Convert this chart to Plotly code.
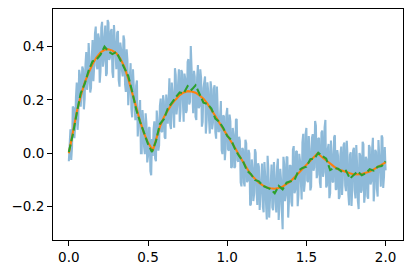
import plotly.graph_objects as go

# Noisy signal, samples at x = 0.00, 0.01, ..., 2.00
noisy_x_a = [round(i * 0.01, 3) for i in range(201)]
noisy_y_a = [
    -0.03, 0.09, 0.02, 0.17, 0.105, 0.265, 0.13, 0.295, 0.225, 0.315,
    0.205, 0.38, 0.265, 0.36, 0.245, 0.425, 0.325, 0.475, 0.315, 0.432,
    0.308, 0.493, 0.347, 0.479, 0.30, 0.49, 0.359, 0.466, 0.283, 0.429,
    0.315, 0.458, 0.25, 0.39, 0.288, 0.425, 0.23, 0.35, 0.23, 0.338,
    0.135, 0.255, 0.124, 0.273, 0.112, 0.20, 0.0, 0.123, -0.003, 0.112,
    -0.01, 0.098, -0.082, -0.01, 0.12, -0.03, 0.12, 0.03, 0.205, 0.08,
    0.195, 0.055, 0.185, 0.266, 0.106, 0.265, 0.152, 0.319, 0.146, 0.262,
    0.118, 0.312, 0.196, 0.299, 0.151, 0.343, 0.183, 0.402, 0.211, 0.309,
    0.137, 0.283, 0.169, 0.315, 0.10, 0.245, 0.288, 0.12, 0.232, 0.074,
    0.245, 0.115, 0.255, 0.055, 0.185, 0.085, 0.196, -0.003, 0.138, 0.019,
    0.17, 0.01, 0.12, -0.05, 0.07, -0.05, 0.129, -0.032, 0.047, -0.124,
    0.015, -0.124, 0.037, -0.102, -0.001, -0.19, -0.056, -0.152, 0.002, -0.194,
    -0.05, -0.144, -0.038, -0.221, -0.085, -0.248, -0.06, -0.181, -0.042, -0.213,
    -0.083, -0.222, -0.02, -0.189, -0.097, -0.285, -0.041, -0.157, -0.013, -0.179,
    -0.045, -0.199, 0.027, -0.137, 0.009, -0.155, -0.029, -0.173, 0.073, -0.111,
    0.095, -0.108, 0.018, -0.125, 0.072, -0.052, 0.104, -0.08, 0.055, -0.13,
    0.085, -0.07, 0.125, -0.12, 0.035, -0.15, -0.004, -0.108, 0.068, -0.136,
    -0.01, -0.162, 0.025, -0.097, 0.04, -0.142, -0.013, -0.195, 0.004, -0.128,
    0.021, -0.169, -0.039, -0.209, -0.008, -0.138, 0.034, -0.154, -0.022, -0.17,
    0.022, -0.105, 0.058, -0.128, 0.005, -0.162, -0.018, -0.125, 0.059, -0.088,
    -0.064,
]

# Noisy signal, samples at x = 0.005, 0.015, ..., 1.995
noisy_x_b = [round(0.005 + i * 0.01, 3) for i in range(200)]
noisy_y_b = [
    0.055, -0.025, 0.175, 0.057, 0.21, 0.088, 0.313, 0.175, 0.325, 0.165,
    0.333, 0.238, 0.413, 0.228, 0.36, 0.27, 0.45, 0.33, 0.449, 0.265,
    0.471, 0.325, 0.438, 0.29, 0.50, 0.35, 0.458, 0.305, 0.481, 0.327,
    0.452, 0.274, 0.415, 0.314, 0.442, 0.258, 0.39, 0.18, 0.309, 0.167,
    0.315, 0.155, 0.254, 0.063, 0.191, 0.0, 0.162, 0.025, 0.15, -0.034,
    0.094, -0.067, 0.054, 0.09, -0.02, 0.16, 0.01, 0.178, 0.083, 0.218,
    0.06, 0.22, 0.111, 0.281, 0.091, 0.229, 0.096, 0.293, 0.179, 0.315,
    0.16, 0.304, 0.118, 0.28, 0.162, 0.353, 0.193, 0.322, 0.15, 0.288,
    0.125, 0.331, 0.177, 0.283, 0.118, 0.262, 0.074, 0.266, 0.128, 0.27,
    0.09, 0.24, 0.08, 0.25, 0.08, 0.19, 0.012, 0.143, -0.026, 0.145,
    0.015, 0.145, -0.055, 0.095, -0.055, 0.125, -0.026, 0.062, -0.109, 0.02,
    -0.11, 0.051, -0.108, 0.013, -0.196, -0.023, -0.179, 0.015, -0.141, -0.037,
    -0.212, -0.066, -0.20, -0.033, -0.187, -0.009, -0.241, -0.092, -0.203, -0.033,
    -0.183, -0.051, -0.25, -0.058, -0.216, -0.013, -0.179, -0.015, -0.241, -0.047,
    -0.182, 0.014, -0.15, 0.006, -0.198, -0.002, -0.106, 0.04, -0.144, 0.072,
    -0.102, 0.065, -0.139, 0.058, -0.065, 0.121, -0.093, 0.057, -0.108, 0.077,
    -0.088, 0.097, -0.128, 0.017, -0.168, 0.048, -0.106, 0.06, -0.134, 0.012,
    -0.171, -0.004, -0.156, 0.031, -0.121, 0.047, -0.154, -0.006, -0.197, 0.011,
    -0.139, 0.031, -0.179, 0.001, -0.148, 0.043, -0.185, -0.013, -0.161, 0.031,
    -0.117, 0.016, -0.18, 0.013, -0.134, 0.05, -0.107, 0.067, -0.13, 0.024,
]

# Smooth signal (orange)
smooth_x = [0.0, 0.025, 0.05, 0.075, 0.1, 0.125, 0.15, 0.175, 0.2, 0.225,
            0.25, 0.275, 0.3, 0.325, 0.35, 0.375, 0.4, 0.425, 0.45, 0.475,
            0.5, 0.53, 0.55, 0.575, 0.6, 0.625, 0.65, 0.675, 0.7, 0.725,
            0.75, 0.775, 0.8, 0.825, 0.85, 0.875, 0.9, 0.925, 0.95, 0.975,
            1.0, 1.025, 1.05, 1.075, 1.1, 1.125, 1.15, 1.175, 1.2, 1.225,
            1.25, 1.275, 1.3, 1.325, 1.35, 1.375, 1.4, 1.425, 1.45, 1.475,
            1.5, 1.525, 1.55, 1.57, 1.6, 1.625, 1.65, 1.675, 1.7, 1.725,
            1.75, 1.775, 1.8, 1.825, 1.85, 1.875, 1.9, 1.925, 1.95, 1.975, 2.0]
smooth_y = [0.0, 0.075, 0.155, 0.215, 0.265, 0.302, 0.335, 0.36, 0.378, 0.388,
            0.39, 0.385, 0.375, 0.355, 0.325, 0.28, 0.225, 0.173, 0.12, 0.075,
            0.04, 0.01, 0.05, 0.10, 0.135, 0.16, 0.185, 0.202, 0.218, 0.228,
            0.233, 0.232, 0.227, 0.217, 0.205, 0.186, 0.165, 0.14, 0.115, 0.092,
            0.07, 0.045, 0.02, -0.007, -0.035, -0.057, -0.08, -0.095, -0.11, -0.12,
            -0.128, -0.131, -0.133, -0.13, -0.125, -0.115, -0.105, -0.09, -0.075, -0.06,
            -0.045, -0.028, -0.012, 0.0, -0.015, -0.027, -0.04, -0.05, -0.06, -0.066,
            -0.072, -0.075, -0.079, -0.079, -0.078, -0.073, -0.068, -0.06, -0.052, -0.043, -0.034]

# Filtered signal (green dashed)
filt_x = [round(i * 0.025, 3) for i in range(81)]
filt_y = [0.005, 0.07, 0.15, 0.225, 0.26, 0.31, 0.345, 0.352, 0.37, 0.40,
          0.382, 0.372, 0.38, 0.35, 0.32, 0.29, 0.232, 0.165, 0.118, 0.08,
          0.035, 0.005, 0.045, 0.11, 0.128, 0.168, 0.19, 0.21, 0.228, 0.225,
          0.252, 0.238, 0.255, 0.225, 0.19, 0.185, 0.168, 0.13, 0.118, 0.095,
          0.065, 0.05, 0.015, -0.01, -0.03, -0.065, -0.078, -0.1, -0.105, -0.122,
          -0.13, -0.135, -0.15, -0.122, -0.135, -0.11, -0.105, -0.1, -0.065, -0.055,
          -0.05, -0.022, -0.02, 0.002, -0.01, -0.02, -0.063, -0.055, -0.058, -0.07,
          -0.065, -0.095, -0.08, -0.068, -0.082, -0.075, -0.06, -0.065, -0.05, -0.048, -0.03]

x_tickvals = [0.0, 0.5, 1.0, 1.5, 2.0]
x_ticktext = ["0.0", "0.5", "1.0", "1.5", "2.0"]
y_tickvals = [-0.2, 0.0, 0.2, 0.4]
y_ticktext = ["\u22120.2", "0.0", "0.2", "0.4"]

# merge the two noisy sample sets in x order
noisy = sorted(zip(noisy_x_a + noisy_x_b, noisy_y_a + noisy_y_b))
noisy_x = [p[0] for p in noisy]
noisy_y = [p[1] for p in noisy]

lw = 2.08
fig = go.Figure()
fig.add_trace(go.Scatter(x=noisy_x, y=noisy_y, mode="lines",
                         line=dict(color="#1f77b4", width=lw), opacity=0.5))
fig.add_trace(go.Scatter(x=smooth_x, y=smooth_y, mode="lines",
                         line=dict(color="#ff7f0e", width=lw)))
fig.add_trace(go.Scatter(x=filt_x, y=filt_y, mode="lines",
                         line=dict(color="#2ca02c", width=lw, dash="7.7px,3.3px")))

axis_common = dict(showgrid=False, zeroline=False, showline=True, mirror=True,
                   linecolor="black", linewidth=1.1, ticks="outside", ticklen=4.9,
                   tickwidth=1.1, tickcolor="black",
                   tickfont=dict(family="DejaVu Sans", size=13.5, color="black"))
fig.update_layout(
    width=411, height=274,
    margin=dict(l=53, r=8, t=9, b=34),
    paper_bgcolor="white", plot_bgcolor="white",
    showlegend=False,
    xaxis=dict(range=[-0.1, 2.11], tickvals=x_tickvals, ticktext=x_ticktext, **axis_common),
    yaxis=dict(range=[-0.325, 0.541], tickvals=y_tickvals, ticktext=y_ticktext, **axis_common),
)
fig.write_html("out.html")
